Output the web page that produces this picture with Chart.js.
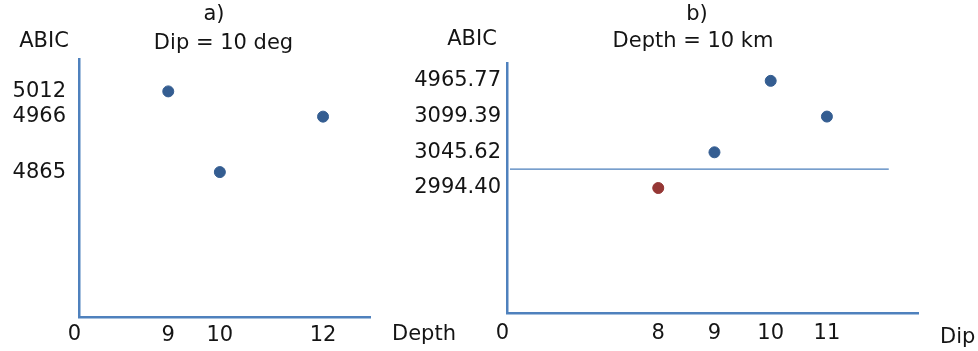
<!DOCTYPE html>
<html>
<head>
<meta charset="utf-8">
<title>ABIC vs Depth and Dip</title>
<script src="https://cdn.jsdelivr.net/npm/chart.js@4.4.1/dist/chart.umd.min.js"></script>
<style>
  html, body { margin: 0; padding: 0; background: #fff; }
  #wrap { position: relative; width: 978px; height: 351px; overflow: hidden; }
  #wrap canvas { position: absolute; top: 0; }
  #panelA { left: 0; }
  #panelB { left: 390px; }
</style>
</head>
<body>
<div id="wrap">
  <canvas id="panelA" width="480" height="351"></canvas>
  <canvas id="panelB" width="588" height="351"></canvas>
</div>
<script>
// Panel a): dip fixed at 10 deg, ABIC for each trial depth
const depthA = [9, 10, 12];
const abicA = [5012, 4865, 4966];
const depthTicksA = [9, 10, 12];
const abicTicksA = [4865, 4966, 5012];

// Panel b): depth fixed at 10 km, ABIC for each trial dip
const dipB = [8, 9, 10, 11];
const abicB = [2994.40, 3045.62, 4965.77, 3099.39];
const dipTicksB = [8, 9, 10, 11];
// ABIC labels on the ranked (non-proportional) axis, top to bottom
const abicLabelsB = ['4965.77', '3099.39', '3045.62', '2994.40'];
const preferredDipB = 8;

const AXIS_BLUE = '#4f81bd';
const DOT_BLUE = '#345d91';
const DOT_RED = '#953735';
const TEXT = '#141414';
const FAMILY = "'DejaVu Sans', sans-serif";
const FONT = { family: FAMILY, size: 21 };

// Titles, axis names and the origin label drawn around the plot area
const panelText = {
  id: 'panelText',
  afterDraw(chart, args, o) {
    const { ctx, chartArea: a } = chart;
    ctx.save();
    ctx.fillStyle = TEXT;
    ctx.font = `21px ${FAMILY}`;
    ctx.textBaseline = 'middle';
    ctx.textAlign = 'center';
    ctx.fillText(o.title, a.left + o.titleX, o.titleY);
    ctx.fillText(o.subtitle, a.left + o.subtitleX, o.subtitleY);
    ctx.fillText(o.yName, a.left - 35, o.yNameY);
    ctx.textAlign = 'right';
    ctx.fillText('0', a.left + 2, a.bottom + o.originDy);
    ctx.textAlign = 'left';
    ctx.fillText(o.xName, a.right + 22, a.bottom + o.xNameDy);
    ctx.restore();
  }
};

// Thin horizontal separator between two ranked ABIC levels
const separator = {
  id: 'separator',
  beforeDatasetsDraw(chart, args, o) {
    if (!o || !o.above) return;
    const { ctx, chartArea: a, scales: { x, y } } = chart;
    const py = (y.getPixelForValue(o.above) + y.getPixelForValue(o.below)) / 2 - 1;
    ctx.save();
    ctx.strokeStyle = o.color;
    ctx.lineWidth = o.width;
    ctx.beginPath();
    ctx.moveTo(a.left + 3, py);
    ctx.lineTo(x.getPixelForValue(o.endX), py);
    ctx.stroke();
    ctx.restore();
  }
};

function fixedTicks(values) {
  return scale => { scale.ticks = values.map(v => ({ value: v })); };
}

function dotDataset(points, color) {
  return {
    data: points,
    backgroundColor: color,
    borderColor: color,
    borderWidth: 1,
    pointRadius: 5.5,
    pointStyle: 'circle'
  };
}

function axisBase(padding) {
  return {
    grid: { display: false, drawTicks: false },
    border: { display: true, color: AXIS_BLUE, width: 2.5 },
    ticks: { color: TEXT, font: FONT, padding: padding, autoSkip: false, maxRotation: 0 }
  };
}

// ---- Panel a) ----
const pointsA = depthA.map((d, i) => ({ x: d, y: abicA[i] }));
const xA = axisBase(6);
Object.assign(xA, {
  type: 'linear', min: 7.27, max: 12.91,
  afterBuildTicks: fixedTicks(depthTicksA),
  afterFit: s => { s.height = 34; }
});
xA.ticks.callback = v => String(v);
const yA = axisBase(13);
Object.assign(yA, {
  type: 'linear', min: 4601, max: 5071,
  afterBuildTicks: fixedTicks(abicTicksA),
  afterFit: s => { s.width = 70; }
});
yA.ticks.callback = v => String(v);

new Chart(document.getElementById('panelA'), {
  type: 'scatter',
  data: { datasets: [dotDataset(pointsA, DOT_BLUE)] },
  options: {
    responsive: false,
    animation: false,
    layout: { padding: { left: 9, right: 110, top: 59, bottom: 0 } },
    scales: { x: xA, y: yA },
    plugins: {
      legend: { display: false },
      tooltip: { enabled: false },
      panelText: {
        title: 'a)', titleX: 135, titleY: 15,
        subtitle: 'Dip = 10 deg', subtitleX: 144.5, subtitleY: 44,
        yName: 'ABIC', yNameY: 42,
        xName: 'Depth', xNameDy: 18, originDy: 18
      }
    }
  },
  plugins: [panelText]
});

// ---- Panel b) ----
const pointsB = dipB.map((d, i) => ({ x: d, y: abicB[i].toFixed(2) }));
const xB = axisBase(8);
Object.assign(xB, {
  type: 'linear', min: 5.31, max: 12.62,
  afterBuildTicks: fixedTicks(dipTicksB),
  afterFit: s => { s.height = 38; }
});
xB.ticks.callback = v => String(v);
const yB = axisBase(6);
Object.assign(yB, {
  type: 'category',
  labels: abicLabelsB.concat(['', '', '']),
  offset: true,
  afterFit: s => { s.width = 100; }
});

new Chart(document.getElementById('panelB'), {
  type: 'scatter',
  data: {
    datasets: [
      dotDataset(pointsB.filter(p => p.x !== preferredDipB), DOT_BLUE),
      dotDataset(pointsB.filter(p => p.x === preferredDipB), DOT_RED)
    ]
  },
  options: {
    responsive: false,
    animation: false,
    layout: { padding: { left: 17, right: 60, top: 63, bottom: 0 } },
    scales: { x: xB, y: yB },
    plugins: {
      legend: { display: false },
      tooltip: { enabled: false },
      panelText: {
        title: 'b)', titleX: 190, titleY: 15,
        subtitle: 'Depth = 10 km', subtitleX: 186, subtitleY: 42,
        yName: 'ABIC', yNameY: 40,
        xName: 'Dip', xNameDy: 25, originDy: 21
      },
      separator: {
        above: '3045.62', below: '2994.40', endX: 12.1,
        color: '#4a7ebb', width: 1.3
      }
    }
  },
  plugins: [panelText, separator]
});
</script>
</body>
</html>
